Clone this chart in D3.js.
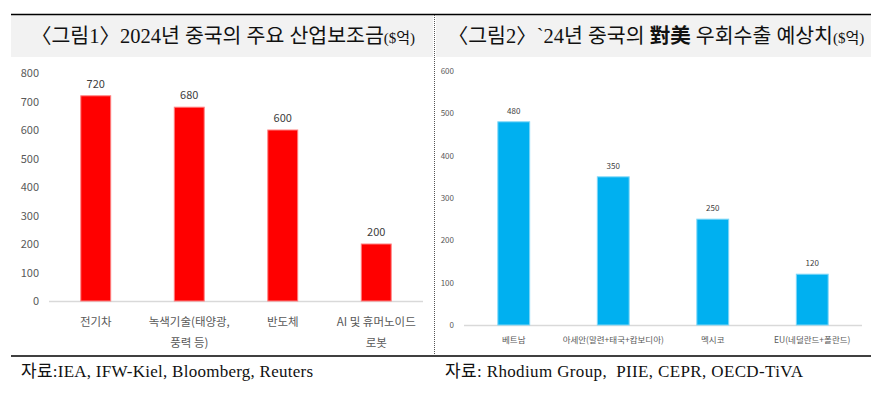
<!DOCTYPE html>
<html>
<head>
<meta charset="utf-8">
<script src="https://cdn.jsdelivr.net/npm/d3@7"></script>
<style>
  body { margin: 0; background: #fff; }
  svg { display: block; }
  .serif { font-family: "Liberation Serif", "Noto Sans CJK KR", serif; }
  .sans { font-family: "Noto Sans CJK KR", "Noto Sans", sans-serif; }
</style>
</head>
<body>
<svg id="chart" width="882" height="395"></svg>
<script>
// left chart: subsidies
var subsidyCats = [['전기차'], ['녹색기술(태양광,', '풍력 등)'], ['반도체'], ['AI 및 휴머노이드', '로봇']];
var subsidyVals = [720, 680, 600, 200];
var subsidyTicks = [0, 100, 200, 300, 400, 500, 600, 700, 800];

// right chart: detour exports
var exportCats = ['베트남', '아세안(말련+태국+캄보디아)', '멕시코', 'EU(네덜란드+폴란드)'];
var exportVals = [480, 350, 250, 120];
var exportTicks = [0, 100, 200, 300, 400, 500, 600];

var svg = d3.select('#chart');

// frame
svg.append('rect').attr('x', 11).attr('y', 15).attr('width', 422).attr('height', 42).attr('fill', '#f2f2f2');
svg.append('rect').attr('x', 436).attr('y', 15).attr('width', 435).attr('height', 42).attr('fill', '#f2f2f2');
svg.append('line').attr('x1', 11).attr('x2', 871).attr('y1', 14.5).attr('y2', 14.5).attr('stroke', '#000').attr('stroke-width', 1.5);
svg.append('line').attr('x1', 11).attr('x2', 871).attr('y1', 356).attr('y2', 356).attr('stroke', '#000').attr('stroke-width', 1.5);
svg.append('line').attr('x1', 434.5).attr('x2', 434.5).attr('y1', 15).attr('y2', 355)
    .attr('stroke', '#555').attr('stroke-width', 1).attr('stroke-dasharray', '1,1');

// titles
var t1 = svg.append('text').attr('class', 'serif').attr('x', 223).attr('y', 43)
    .attr('text-anchor', 'middle').attr('font-size', 20.5).attr('fill', '#111');
t1.append('tspan').text('〈그림1〉2024년 중국의 주요 산업보조금');
t1.append('tspan').attr('font-size', 15).text('($억)');

var t2 = svg.append('text').attr('class', 'serif').attr('x', 656).attr('y', 43)
    .attr('text-anchor', 'middle').attr('font-size', 20.5).attr('fill', '#111');
t2.append('tspan').text('〈그림2〉`24년 중국의 ');
t2.append('tspan').attr('font-weight', 'bold').text('對美');
t2.append('tspan').text(' 우회수출 예상치');
t2.append('tspan').attr('font-size', 15).text('($억)');

// footers
svg.append('text').attr('class', 'serif').attr('x', 21).attr('y', 377)
    .attr('font-size', 17).attr('fill', '#111').attr('textLength', 292)
    .text('자료:IEA, IFW-Kiel, Bloomberg, Reuters');
svg.append('text').attr('class', 'serif').attr('x', 445).attr('y', 377)
    .attr('font-size', 17).attr('fill', '#111').attr('textLength', 358)
    .text('자료: Rhodium Group,\u00a0 PIIE, CEPR, OECD-TiVA');

function barChart(opt) {
    var x = d3.scaleBand().domain(d3.range(opt.vals.length))
        .range([opt.left, opt.right]).paddingInner(0.68).paddingOuter(0.34);
    var y = d3.scaleLinear().domain([0, opt.max]).range([opt.base, opt.top]);
    var g = svg.append('g');

    var ax = g.append('g').attr('transform', 'translate(' + (opt.left - 6) + ',0)')
        .call(d3.axisLeft(y).tickValues(opt.ticks).tickSize(0).tickPadding(4));
    ax.select('.domain').remove();
    ax.selectAll('text').attr('class', 'sans').attr('font-size', opt.tickSize).attr('fill', '#595959');

    g.append('line').attr('x1', opt.left).attr('x2', opt.right)
        .attr('y1', opt.base + 0.5).attr('y2', opt.base + 0.5).attr('stroke', '#d9d9d9').attr('stroke-width', 1.5);

    g.selectAll('.bar').data(opt.vals).enter().append('rect')
        .attr('x', function(d, i) { return x(i) })
        .attr('width', x.bandwidth())
        .attr('y', function(d) { return y(d) })
        .attr('height', function(d) { return opt.base - y(d) })
        .attr('fill', opt.color)
        .attr('stroke', opt.edge).attr('stroke-width', 1);

    g.selectAll('.val').data(opt.vals).enter().append('text')
        .attr('class', 'sans')
        .attr('x', function(d, i) { return x(i) + x.bandwidth() / 2 })
        .attr('y', function(d) { return y(d) - opt.valGap })
        .attr('text-anchor', 'middle').attr('font-size', opt.valSize).attr('fill', '#404040')
        .text(function(d) { return d });

    g.selectAll('.cat').data(opt.cats).enter().append('text')
        .attr('class', 'sans')
        .attr('x', function(d, i) { return x(i) + x.bandwidth() / 2 })
        .attr('y', opt.catY)
        .attr('text-anchor', 'middle').attr('font-size', opt.catSize).attr('fill', '#595959')
        .each(function(d) {
            var lines = Array.isArray(d) ? d : [d];
            var el = d3.select(this);
            lines.forEach(function(l, k) {
                el.append('tspan').attr('x', el.attr('x')).attr('dy', k == 0 ? 0 : opt.catLine).text(l);
            });
        });
}

barChart({
    cats: subsidyCats, vals: subsidyVals, ticks: subsidyTicks, max: 800,
    left: 49, right: 423, top: 73, base: 301,
    color: '#ff0000', edge: '#ff8080',
    tickSize: 11, valSize: 11, valGap: 8, catSize: 11.5, catY: 326, catLine: 21
});

barChart({
    cats: exportCats, vals: exportVals, ticks: exportTicks, max: 600,
    left: 464, right: 862, top: 71, base: 325,
    color: '#00b0f0', edge: '#7fd7f7',
    tickSize: 8, valSize: 8, valGap: 8, catSize: 8.5, catY: 343, catLine: 12
});
</script>
</body>
</html>
